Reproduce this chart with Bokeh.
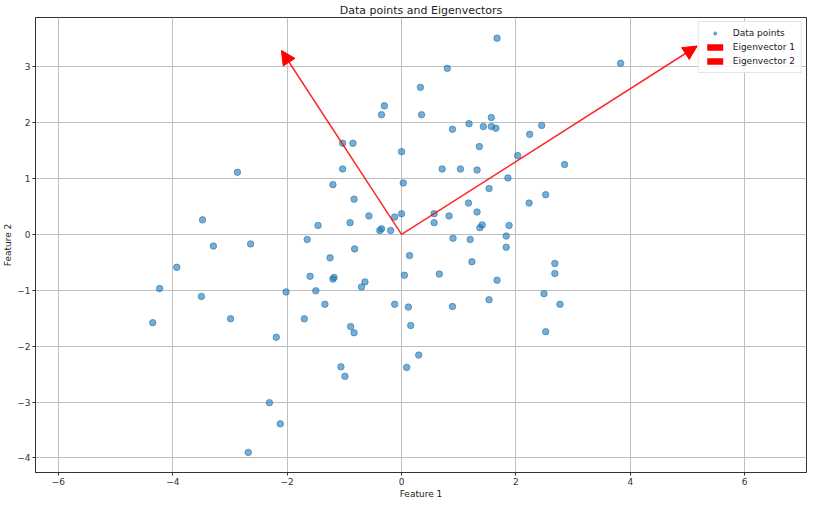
from bokeh.plotting import figure
from bokeh.models import Arrow, NormalHead, Range1d, FixedTicker, Legend, LegendItem
from bokeh.embed import file_html
from bokeh.resources import INLINE

# ---- data ----
feature1 = [-0.30, -0.35, -1.03, -0.85, 0.00, -2.87, -1.03, 0.03, -1.20, -0.83,
            -3.48, -0.57, 0.00, -0.12, -1.46, -0.90, -0.35, -0.38, -0.19, -1.65,
            1.67, 3.83, 0.80, 0.33, 0.35, 1.57, 1.18, 0.89, 1.43, 1.57,
            1.65, 2.45, 2.24, 1.36, 2.03, 2.85, 0.71, 1.03, 1.32, 1.86,
            1.53, 2.52, 1.17, 2.23, 1.32, 0.57, 0.83, 0.57, 1.88, 1.41,
            1.37, 0.90, 1.20, 1.83, -3.29, -2.64, -0.82, -1.25, 0.14, -3.93,
            -1.60, -1.18, -1.20, -0.64, -0.70, 0.05, -4.23, -2.02, -1.50, -3.50,
            -1.34, -0.12, 0.12, -2.99, -1.70, -4.35, -0.89, -0.83, 0.16, -2.19,
            -1.06, -0.99, 0.09, -2.31, -2.12, -2.68, 1.83, 1.23, 0.66, 2.68,
            2.68, 1.67, 2.49, 2.77, 0.89, 1.53, 2.52, 0.30]
feature2 = [2.30, 2.14, 1.63, 1.63, 1.48, 1.11, 1.17, 0.92, 0.89, 0.63,
            0.26, 0.33, 0.37, 0.31, 0.16, 0.21, 0.10, 0.07, 0.07, -0.09,
            3.51, 3.06, 2.97, 2.63, 2.14, 2.09, 1.98, 1.88, 1.93, 1.93,
            1.90, 1.95, 1.79, 1.57, 1.41, 1.25, 1.17, 1.17, 1.15, 1.01,
            0.82, 0.71, 0.56, 0.56, 0.40, 0.37, 0.33, 0.21, 0.16, 0.17,
            0.12, -0.07, -0.09, -0.03, -0.21, -0.17, -0.26, -0.42, -0.38, -0.59,
            -0.75, -0.77, -0.80, -0.85, -0.94, -0.73, -0.97, -1.03, -1.01, -1.11,
            -1.25, -1.25, -1.30, -1.51, -1.51, -1.58, -1.65, -1.76, -1.63, -1.84,
            -2.37, -2.54, -2.38, -3.01, -3.39, -3.90, -0.23, -0.49, -0.71, -0.52,
            -0.70, -0.82, -1.06, -1.25, -1.29, -1.17, -1.74, -2.16]

mean_point = [0.0, 0.0]
eigenvector_1 = [5.17, 3.37]
eigenvector_2 = [-2.10, 3.29]

x_ticks = [-6, -4, -2, 0, 2, 4, 6]
x_tick_labels = ["\u22126", "\u22124", "\u22122", "0", "2", "4", "6"]
y_ticks = [-4, -3, -2, -1, 0, 1, 2, 3]
y_tick_labels = ["\u22124", "\u22123", "\u22122", "\u22121", "0", "1", "2", "3"]

FONT = "DejaVu Sans"

p = figure(width=808, height=501, output_backend="svg", toolbar_location=None,
           x_range=Range1d(-6.40, 7.08), y_range=Range1d(-4.26, 3.88),
           title="Data points and Eigenvectors",
           x_axis_label="Feature 1", y_axis_label="Feature 2",
           min_border_top=0, min_border_right=2, min_border_left=0, min_border_bottom=0)

p.title.align = "center"
p.title.text_font = FONT
p.title.text_font_size = "11px"
p.title.text_font_style = "normal"
p.title.text_color = "#222222"
p.title.standoff = 2
p.title.offset = 0

p.outline_line_color = "#333333"
p.outline_line_width = 1
p.background_fill_color = "white"
p.border_fill_color = "white"

for ax, ticks, labels in ((p.xaxis[0], x_ticks, x_tick_labels), (p.yaxis[0], y_ticks, y_tick_labels)):
    ax.ticker = FixedTicker(ticks=ticks)
    ax.major_label_overrides = {t: l for t, l in zip(ticks, labels)}
    ax.major_label_text_font = FONT
    ax.major_label_text_font_size = "9px"
    ax.major_label_text_color = "#333333"
    ax.axis_label_text_font = FONT
    ax.axis_label_text_font_size = "9px"
    ax.axis_label_text_font_style = "normal"
    ax.axis_label_text_color = "#222222"
    ax.axis_line_color = "#333333"
    ax.major_tick_line_color = "#333333"
    ax.major_tick_in = 0
    ax.major_tick_out = 3
    ax.minor_tick_line_color = None
    ax.axis_label_standoff = 1
    ax.major_label_standoff = 2

p.xgrid.ticker = FixedTicker(ticks=x_ticks)
p.ygrid.ticker = FixedTicker(ticks=y_ticks)
p.grid.grid_line_color = "#bfbfbf"
p.grid.grid_line_width = 1

pts = p.scatter(feature1, feature2, size=6.5, fill_color="#1f77b4", fill_alpha=0.6,
                line_color="#1f77b4", line_alpha=0.6)

for vec in (eigenvector_1, eigenvector_2):
    p.add_layout(Arrow(end=NormalHead(size=14, fill_color="red", line_color="red", line_width=1),
                       x_start=mean_point[0], y_start=mean_point[1],
                       x_end=mean_point[0] + vec[0], y_end=mean_point[1] + vec[1],
                       line_color="red", line_width=1.5, line_alpha=0.85))

# zero-area swatch renderers (anchored at the mean point) for the legend patches
sw1 = p.quad(left=[mean_point[0]], right=[mean_point[0]], top=[mean_point[1]], bottom=[mean_point[1]],
             fill_color="red", line_color=None)
sw2 = p.quad(left=[mean_point[0]], right=[mean_point[0]], top=[mean_point[1]], bottom=[mean_point[1]],
             fill_color="red", line_color=None)

legend = Legend(items=[LegendItem(label="Data points", renderers=[pts]),
                       LegendItem(label="Eigenvector 1", renderers=[sw1]),
                       LegendItem(label="Eigenvector 2", renderers=[sw2])],
                location="top_right")
legend.label_text_font = FONT
legend.label_text_font_size = "9px"
legend.label_text_color = "#222222"
legend.glyph_width = 20
legend.glyph_height = 8
legend.label_height = 8
legend.spacing = 4
legend.padding = 6
legend.margin = 4
legend.label_standoff = 8
legend.border_line_color = "#cccccc"
legend.border_line_width = 1
legend.background_fill_alpha = 0.85
p.add_layout(legend)

open("out.html", "w").write(file_html(p, INLINE))
